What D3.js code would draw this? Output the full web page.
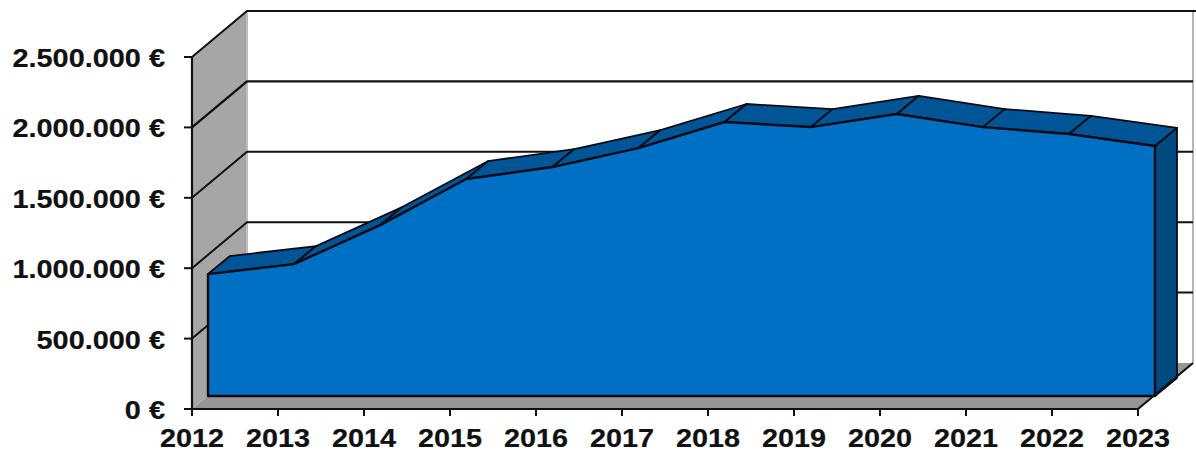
<!DOCTYPE html>
<html><head><meta charset="utf-8">
<script src="https://cdn.jsdelivr.net/npm/d3@7"></script>
<style>html,body{margin:0;padding:0;background:#fff;overflow:hidden}svg{display:block}
text{font-family:"Liberation Sans",Arial,sans-serif;font-weight:700;fill:#111;stroke:#111;stroke-width:.2px}</style>
</head><body><svg id="c" width="1196" height="452"></svg>
<script>
const years = ["2012","2013","2014","2015","2016","2017","2018","2019","2020","2021","2022","2023"];
const revenue = [866000,937000,1214000,1541000,1626000,1761000,1946000,1910000,2003000,1910000,1861000,1776000];
const yTicks = [0,500000,1000000,1500000,2000000,2500000];
const fmt = v => (v === 0 ? "0" : d3.format(",")(v).replace(/,/g,".")) + " €";

const svg = d3.select("#c");
const y = d3.scaleLinear().domain([0,2500000]).range([409,57]);
const xAxis = d3.scalePoint().domain(years).range([192,1138]);
const wall = {dx:55, dy:-46};          // back wall offset
const plane = {dx:16, dy:-13};         // front plane of the area
const depth = {dx:22, dy:-18};         // thickness of the area
const x = d3.scalePoint().domain(years).range([192+plane.dx,1139+plane.dx]);
const line = d3.line();
const x0 = 192, x1 = 1138, yB = y(0), yT = y(2500000);

const poly = (pts,fill,stroke,w) => svg.append("path").attr("d",line(pts)+"Z")
  .attr("fill",fill).attr("stroke",stroke||"none").attr("stroke-width",w||0).attr("stroke-linejoin","round");
const seg = (pts,stroke,w) => svg.append("path").attr("d",line(pts)).attr("fill","none")
  .attr("stroke",stroke).attr("stroke-width",w);

// back wall, side wall, floor
poly([[x0+wall.dx,yT+wall.dy],[1196,yT+wall.dy],[1196,yB+wall.dy],[x0+wall.dx,yB+wall.dy]],"#fff");
poly([[x0,yT],[x0+wall.dx,yT+wall.dy],[x0+wall.dx,yB+wall.dy],[x0,yB]],"#a6a6a6");
seg([[x0+wall.dx,yT+wall.dy],[x0+wall.dx,yB+wall.dy]],"#bdbdbd",2);
poly([[x0,yB],[x1,yB],[x1+wall.dx,yB+wall.dy],[x0+wall.dx,yB+wall.dy]],"#969696");
seg([[x1+wall.dx,yT+wall.dy],[x1+wall.dx,yB+wall.dy]],"#b5b5b5",2);

// gridlines across side wall and back wall
yTicks.slice(1).forEach(t=>{
  seg([[x0,y(t)],[x0+wall.dx,y(t)+wall.dy],[x1+wall.dx,y(t)+wall.dy]],"#111",t===2000000?2.4:2);
});
seg([[x0+wall.dx,yT+wall.dy],[1196,yT+wall.dy]],"#111",2);

// area: top strip
const px = i => x(years[i]), py = i => y(revenue[i])+plane.dy;
const base = yB+plane.dy;
years.slice(1).forEach((_,k)=>{
  poly([[px(k),py(k)],[px(k+1),py(k+1)],[px(k+1)+depth.dx,py(k+1)+depth.dy],[px(k)+depth.dx,py(k)+depth.dy]],
       "#005596","#0a0a14",1.8);
});
// area: right side
const L = years.length-1;
poly([[px(L),py(L)],[px(L)+depth.dx,py(L)+depth.dy],[px(L)+depth.dx,base+depth.dy],[px(L),base]],"#004a80","#0a0a14",1.8);
// area: front face
const front = d3.area().x((d,i)=>px(i)).y0(base).y1((d,i)=>py(i));
svg.append("path").attr("d",front(revenue)).attr("fill","#0070c4").attr("stroke","#0a0a14").attr("stroke-width",2.4).attr("stroke-linejoin","round");

// axes
seg([[x0,yT],[x0,yB]],"#111",2.2);
seg([[x0,yB],[x1,yB],[x1+wall.dx,yB+wall.dy]],"#111",2.2);
yTicks.forEach(t=>{
  seg([[x0-8,y(t)],[x0,y(t)]],"#111",2);
  svg.append("text").attr("font-size",26.5).attr("text-anchor","end").attr("transform",`translate(165,${y(t)+10}) scale(1.09,1)`).text(fmt(t));
});
years.forEach(yr=>{
  seg([[xAxis(yr),yB],[xAxis(yr),yB+7]],"#111",2);
  svg.append("text").attr("font-size",25.5).attr("text-anchor","middle").attr("transform",`translate(${xAxis(yr)},446.5) scale(1.13,1)`).text(yr);
});
</script></body></html>
